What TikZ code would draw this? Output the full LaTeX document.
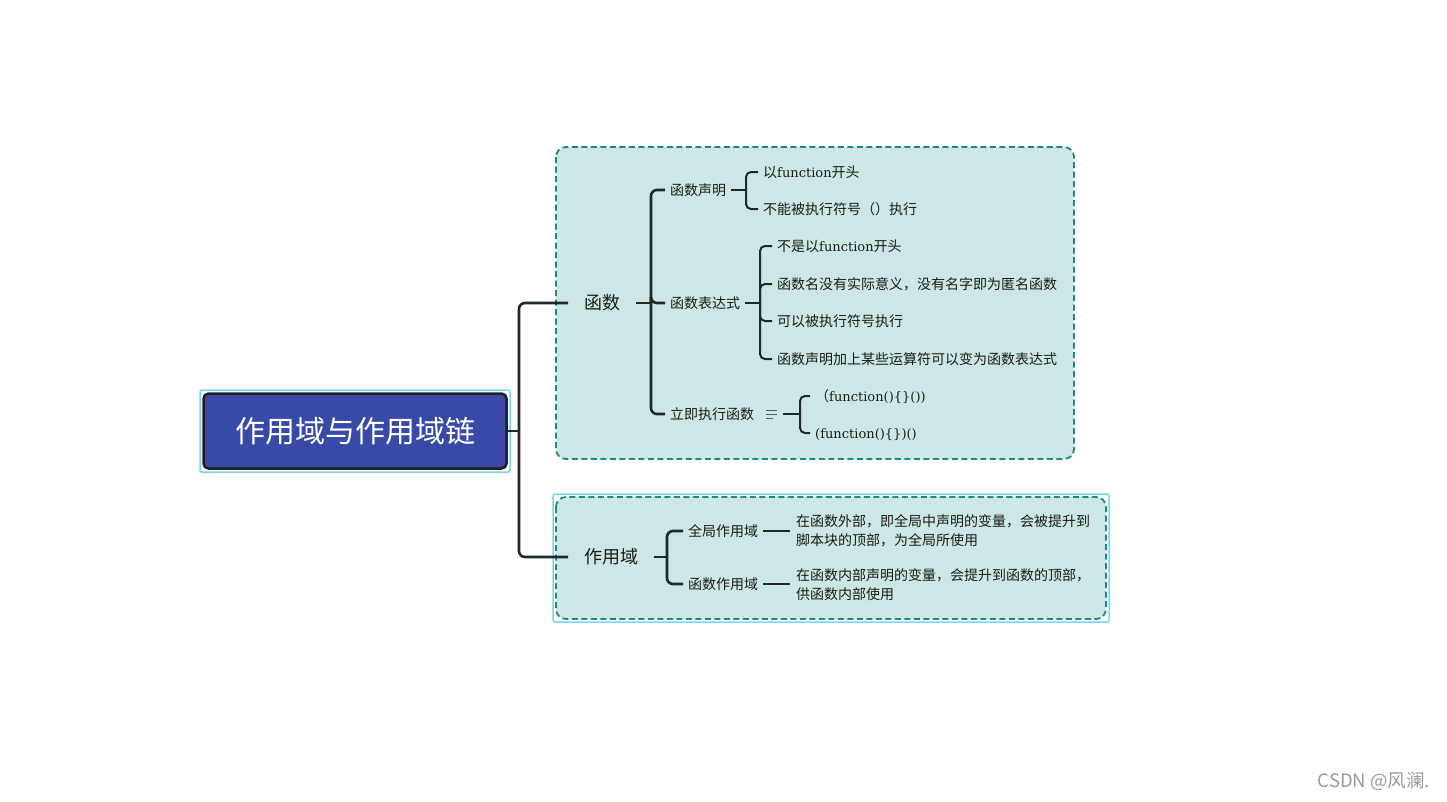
\documentclass[tikz,border=0pt]{standalone}
\usepackage{fontspec}
\setmainfont{Noto Sans CJK SC}
\newfontfamily\latserif{DejaVu Serif}[Scale=0.93]
\newcommand\serifw[1]{{\latserif #1}}
\usetikzlibrary{calc}
\definecolor{linedark}{HTML}{1E2A2A}
\definecolor{textdark}{HTML}{1A1A1A}
\definecolor{boxfill}{HTML}{CDE7E7}
\definecolor{boxteal}{HTML}{1B8A7A}
\definecolor{outerblue}{HTML}{7DD3F7}
\definecolor{titlefill}{HTML}{3949A8}
\definecolor{titleborder}{HTML}{1F1F1F}
\definecolor{wmgray}{HTML}{9A9A9A}
\begin{document}
\begin{tikzpicture}[x=1pt,y=-1pt,
  conn/.style={draw=linedark, line width=2.6pt, rounded corners=6pt},
  sub/.style={draw=linedark, line width=2pt, rounded corners=5pt},
  lbl/.style={anchor=west, inner xsep=5pt, inner ysep=0pt, text=textdark,
    font=\fontsize{14}{19}\selectfont, text height=12.3pt, text depth=1.7pt},
  desc/.style={anchor=west, inner xsep=6pt, inner ysep=0pt, text=textdark,
    font=\fontsize{14}{19}\selectfont, align=left},
  big/.style={anchor=west, inner xsep=16pt, inner ysep=0pt, text=textdark,
    font=\fontsize{18}{22}\selectfont, text height=15.8pt, text depth=2.2pt},
  groupbox/.style={draw=boxteal, fill=boxfill, line width=1.8pt, dash pattern=on 6pt off 3.5pt, rounded corners=10pt},
  outerbox/.style={draw=outerblue, line width=1.5pt, rounded corners=2pt}
]
\fill[white] (0,0) rectangle (1447,801);
\useasboundingbox (0,0) rectangle (1447,801);

% group boxes
\draw[groupbox] (556,147) rectangle (1074,459);
\draw[outerbox] (553,494) rectangle (1109,622);
\draw[groupbox] (556,497) rectangle (1106,619);

% title
\draw[outerbox] (200,390) rectangle (510,472);
\node[draw=titleborder, fill=titlefill, line width=2.5pt, rounded corners=5pt,
  minimum width=303pt, minimum height=75pt, inner sep=0pt, text=white,
  font=\fontsize{30}{34}\selectfont] (title) at (355,431) {作用域与作用域链};

% level 1
\node[big] (hs) at (568,303) {函数};
\node[big] (zyy) at (568,557) {作用域};

\coordinate (j0) at (519,431);
\draw[conn] (title.east) -- (j0);
\draw[conn] (j0) |- (hs.west);
\draw[conn] (j0) |- (zyy.west);

% 函数 children
\node[lbl] (sm) at (665,190) {函数声明};
\node[lbl] (bd) at (665,303) {函数表达式};
\node[lbl] (ii) at (665,414) {立即执行函数};
\node[inner sep=0pt, minimum width=23pt, minimum height=10pt] (icon) at (771.5,414) {};
\draw[draw=black!65, line width=0.9pt]
  ($(icon.center)+(-5.5,-4)$) -- ++(11,0)
  ($(icon.center)+(-5.5,0)$) -- ++(11,0)
  ($(icon.center)+(-5.5,4)$) -- ++(7,0);

\coordinate (j1) at (651,303);
\draw[conn] (hs.east) -- (j1);
\draw[conn] (j1) |- (sm.west);
\draw[conn] (j1) |- (bd.west);
\draw[conn] (j1) |- (ii.west);

% 函数声明 children
\node[lbl] (sm1) at (758,172) {以\serifw{function}开头};
\node[lbl] (sm2) at (758,209) {不能被执行符号（）执行};
\coordinate (j2) at (746,190);
\draw[sub] (sm.east) -- (j2);
\draw[sub] (j2) |- (sm1.west);
\draw[sub] (j2) |- (sm2.west);

% 函数表达式 children
\node[lbl] (bd1) at (772,246) {不是以\serifw{function}开头};
\node[lbl] (bd2) at (772,284) {函数名没有实际意义，没有名字即为匿名函数};
\node[lbl] (bd3) at (772,321) {可以被执行符号执行};
\node[lbl] (bd4) at (772,359) {函数声明加上某些运算符可以变为函数表达式};
\coordinate (j3) at (760,303);
\draw[sub] (bd.east) -- (j3);
\draw[sub] (j3) |- (bd1.west);
\draw[sub] (j3) |- (bd2.west);
\draw[sub] (j3) |- (bd3.west);
\draw[sub] (j3) |- (bd4.west);

% 立即执行函数 children
\node[lbl] (ii1) at (810,396) {（\serifw{function()\{\}())}};
\node[lbl] (ii2) at (810,433) {\serifw{(function()\{\})()}};
\coordinate (j4) at (800,414);
\draw[sub] (icon.east) -- (j4);
\draw[sub] (j4) |- (ii1.west);
\draw[sub] (j4) |- (ii2.west);

% 作用域 children
\node[lbl] (qj) at (683,531) {全局作用域};
\node[lbl] (hz) at (683,584) {函数作用域};
\coordinate (j5) at (667,557);
\draw[conn] (zyy.east) -- (j5);
\draw[conn] (j5) |- (qj.west);
\draw[conn] (j5) |- (hz.west);

\node[desc] (qjd) at (790,531) {在函数外部，即全局中声明的变量，会被提升到\\脚本块的顶部，为全局所使用};
\node[desc] (hzd) at (790,585) {在函数内部声明的变量，会提升到函数的顶部，\\供函数内部使用};
\draw[sub] (qj.east) -- (qj.east -| qjd.west);
\draw[sub] (hz.east) -- (hz.east -| hzd.west);

% watermark
\node[text=wmgray, font=\fontsize{18.5}{20}\selectfont, inner sep=0pt] (wm) at (1374,781) {CSDN @风澜.};
\end{tikzpicture}
\end{document}
